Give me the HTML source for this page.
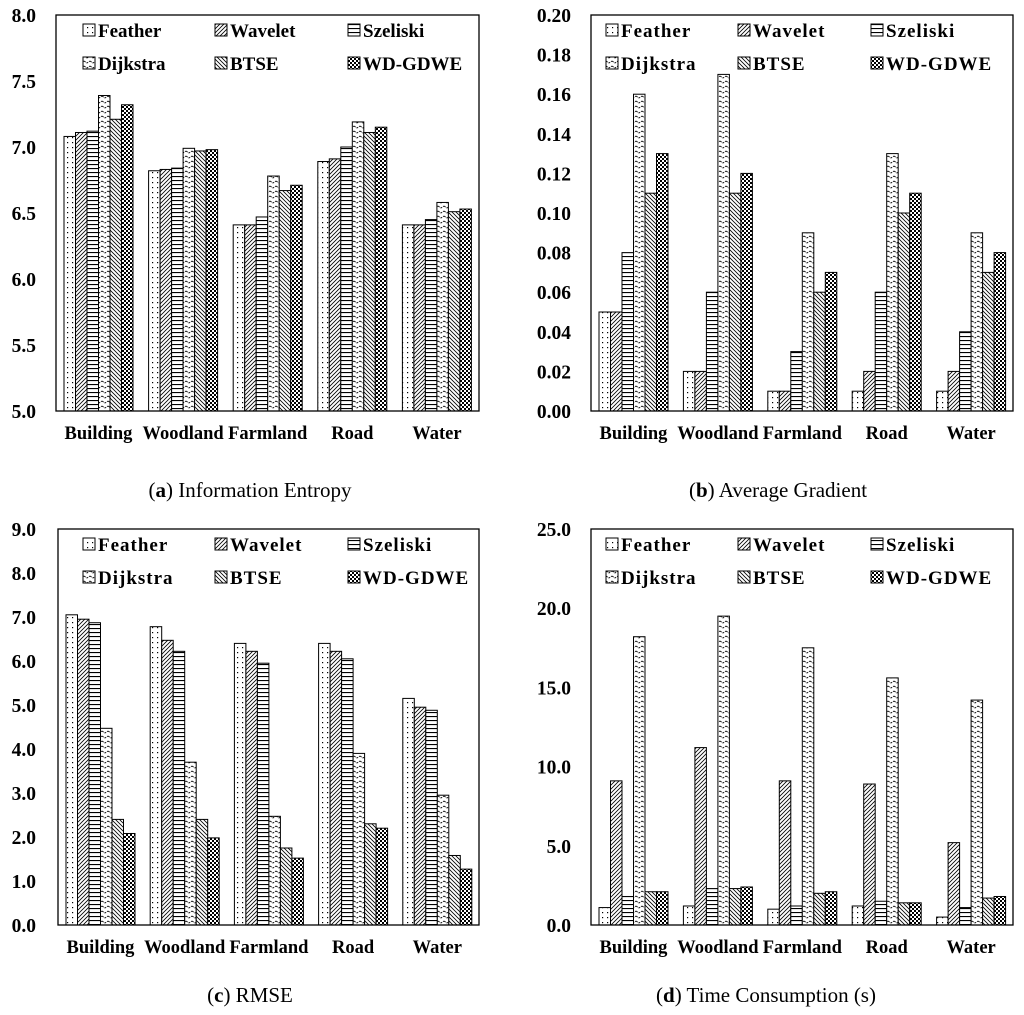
<!DOCTYPE html>
<html><head><meta charset="utf-8">
<style>
html,body{margin:0;padding:0;background:#fff;}
svg{display:block;}
text{font-family:"Liberation Serif",serif;}
</style></head>
<body>
<svg id="fig" width="1024" height="1015" xmlns="http://www.w3.org/2000/svg">
<defs>
<pattern id="p0" width="5" height="5" patternUnits="userSpaceOnUse"><rect width="5" height="5" fill="#fff"/><rect x="2" y="2" width="1.2" height="1.2" fill="#000"/></pattern>
<pattern id="p1" width="4" height="4" patternUnits="userSpaceOnUse"><rect width="4" height="4" fill="#fff"/><path d="M-1,1 l2,-2 M0,4 l4,-4 M3,5 l2,-2" stroke="#000" stroke-width="0.8"/></pattern>
<pattern id="p2" width="4" height="4" patternUnits="userSpaceOnUse"><rect width="4" height="4" fill="#fff"/><rect y="0" width="4" height="1.1" fill="#000"/></pattern>
<pattern id="p3" width="6" height="5" patternUnits="userSpaceOnUse"><rect width="6" height="5" fill="#fff"/><path d="M0,1 L3,3 L6,1" stroke="#000" stroke-width="0.9" fill="none" stroke-dasharray="2,1"/></pattern>
<pattern id="p4" width="4" height="4" patternUnits="userSpaceOnUse"><rect width="4" height="4" fill="#fff"/><path d="M-1,3 l2,2 M0,0 l4,4 M3,-1 l2,2" stroke="#000" stroke-width="0.8"/></pattern>
<pattern id="p5" width="4" height="4" patternUnits="userSpaceOnUse"><rect width="4" height="4" fill="#fff"/><rect width="2" height="2" fill="#000"/><rect x="2" y="2" width="2" height="2" fill="#000"/></pattern>
</defs>
</svg>
<script>
const categories = ["Building","Woodland","Farmland","Road","Water"];
const seriesNames = ["Feather","Wavelet","Szeliski","Dijkstra","BTSE","WD-GDWE"];
const entropyValues = [[7.08,7.11,7.12,7.39,7.21,7.32],[6.82,6.83,6.84,6.99,6.97,6.98],[6.41,6.41,6.47,6.78,6.67,6.71],[6.89,6.91,7.00,7.19,7.11,7.15],[6.41,6.41,6.45,6.58,6.51,6.53]];
const gradientValues = [[0.05,0.05,0.08,0.16,0.11,0.13],[0.02,0.02,0.06,0.17,0.11,0.12],[0.01,0.01,0.03,0.09,0.06,0.07],[0.01,0.02,0.06,0.13,0.10,0.11],[0.01,0.02,0.04,0.09,0.07,0.08]];
const rmseValues = [[7.05,6.95,6.87,4.47,2.40,2.08],[6.78,6.47,6.22,3.70,2.40,1.98],[6.40,6.22,5.95,2.47,1.75,1.52],[6.40,6.22,6.05,3.90,2.30,2.20],[5.15,4.95,4.88,2.95,1.58,1.27]];
const timeValues = [[1.1,9.1,1.8,18.2,2.1,2.1],[1.2,11.2,2.3,19.5,2.3,2.4],[1.0,9.1,1.2,17.5,2.0,2.1],[1.2,8.9,1.5,15.6,1.4,1.4],[0.5,5.2,1.1,14.2,1.7,1.8]];
const entropyTicks = ["5.0","5.5","6.0","6.5","7.0","7.5","8.0"];
const gradientTicks = ["0.00","0.02","0.04","0.06","0.08","0.10","0.12","0.14","0.16","0.18","0.20"];
const rmseTicks = ["0.0","1.0","2.0","3.0","4.0","5.0","6.0","7.0","8.0","9.0"];
const timeTicks = ["0.0","5.0","10.0","15.0","20.0","25.0"];

const NS="http://www.w3.org/2000/svg";
const svg=document.getElementById('fig');
function mk(tag,attrs,parent){const e=document.createElementNS(NS,tag);for(const k in attrs)e.setAttribute(k,attrs[k]);(parent||svg).appendChild(e);return e;}

function panel(cfg){
  const g=mk('g',{});
  
  
  const {L,R,T,B,ticks,data}=cfg;
  const ymin=parseFloat(ticks[0]), ymax=parseFloat(ticks[ticks.length-1]);
  const y=v=>B-(v-ymin)/(ymax-ymin)*(B-T);
  const gw=(R-L)/categories.length;
  const bw=11.5;
  data.forEach((row,ci)=>{
    row.forEach((v,si)=>{
      const x=L+ci*gw+8+si*bw;
      const r=mk('rect',{x:x,y:y(v),width:bw,height:B-y(v),fill:'url(#p'+si+')',stroke:'#000','stroke-width':1},g);
      
      
    });
    const t=mk('text',{x:L+ci*gw+8+3*bw,y:B+28,'text-anchor':'middle','font-size':18.5,'font-weight':'bold'},g);
    t.textContent=categories[ci];
    
    
  });
  ticks.forEach(tk=>{
    const t=mk('text',{x:L-cfg.labOff,y:y(parseFloat(tk))+7,'text-anchor':'end','font-size':19.5,'font-weight':'bold'},g);
    t.textContent=tk;
    
    
  });
  const box=mk('rect',{x:L,y:T,width:R-L,height:B-T,fill:'none',stroke:'#000','stroke-width':1.3},g);
  
  
  const cols=[L+27,L+159,L+292];
  seriesNames.forEach((n,i)=>{
    const lx=cols[i%3]+(cfg.legOff||0), ly=T+(i<3?15:48);
    const lg=mk('g',{},g);
    
    
    mk('rect',{x:lx,y:ly-6,width:12,height:12,fill:'url(#p'+i+')',stroke:'#000','stroke-width':1},lg);
    const t=mk('text',{x:lx+15,y:ly+7,'font-size':19,'font-weight':'bold','font-family':cfg.legFont,'letter-spacing':cfg.ls||0},lg);
    t.textContent=n;
  });
  const cap=mk('text',{x:cfg.capX,y:cfg.capY,'text-anchor':'middle','font-size':21},g);
  
  
  const b1=mk('tspan',{},cap);b1.textContent='(';
  const b2=mk('tspan',{'font-weight':'bold'},cap);b2.textContent=cfg.letter;
  const b3=mk('tspan',{},cap);b3.textContent=') '+cfg.caption;
}
panel({name:'chart-information-entropy',L:56,R:479,T:15,B:411,ticks:entropyTicks,data:entropyValues,labOff:20,legFont:'Liberation Sans, sans-serif',capX:250,capY:497,letter:'a',caption:'Information Entropy'});
panel({name:'chart-average-gradient',L:591,R:1013,T:15,B:411,ticks:gradientTicks,data:gradientValues,labOff:20,legFont:'Liberation Serif, serif',ls:1,capX:778,capY:497,letter:'b',caption:'Average Gradient',legOff:-12});
panel({name:'chart-rmse',L:58,R:479,T:529,B:925,ticks:rmseTicks,data:rmseValues,labOff:22,legFont:'Liberation Serif, serif',ls:1,capX:250,capY:1002,letter:'c',caption:'RMSE',legOff:-2});
panel({name:'chart-time-consumption',L:591,R:1013,T:529,B:925,ticks:timeTicks,data:timeValues,labOff:20,legFont:'Liberation Serif, serif',ls:1,capX:766,capY:1002,letter:'d',caption:'Time Consumption (s)',legOff:-12});
</script>
</body></html>
